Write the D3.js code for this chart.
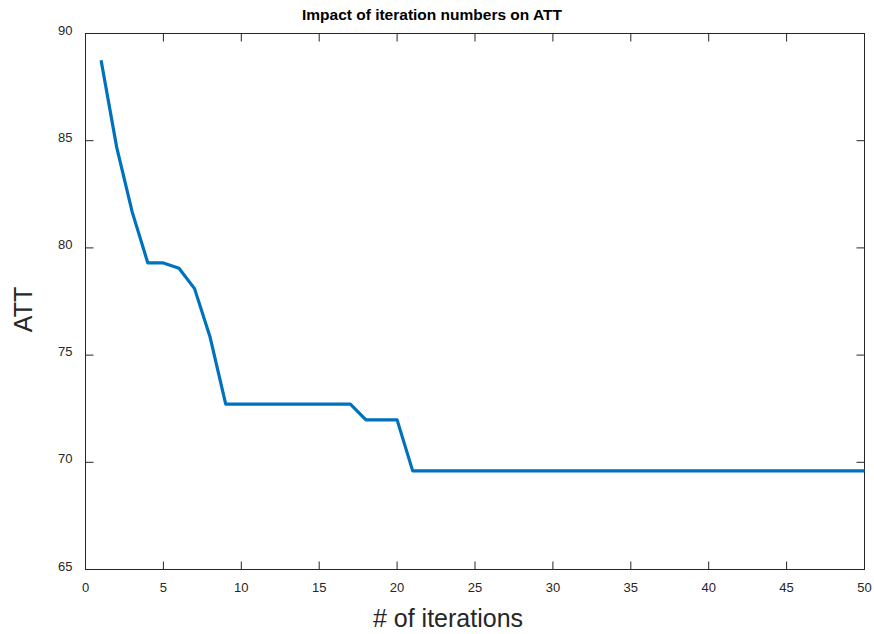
<!DOCTYPE html>
<html>
<head>
<meta charset="utf-8">
<script src="https://cdn.jsdelivr.net/npm/d3@7"></script>
<style>
  body { margin: 0; background: #fff; }
  svg { display: block; font-family: Arial, "Liberation Sans", sans-serif; }
</style>
</head>
<body>
<script>
// data
const iterations = d3.range(1, 51);
const attValues = [
  88.75, 84.7, 81.67, 79.3, 79.3, 79.05, 78.1, 75.83, 72.71, 72.71,
  72.71, 72.71, 72.71, 72.71, 72.71, 72.71, 72.71, 71.98, 71.98, 71.98,
  69.6, 69.6, 69.6, 69.6, 69.6, 69.6, 69.6, 69.6, 69.6, 69.6,
  69.6, 69.6, 69.6, 69.6, 69.6, 69.6, 69.6, 69.6, 69.6, 69.6,
  69.6, 69.6, 69.6, 69.6, 69.6, 69.6, 69.6, 69.6, 69.6, 69.6
];
const xTicks = [0, 5, 10, 15, 20, 25, 30, 35, 40, 45, 50];
const yTicks = [65, 70, 75, 80, 85, 90];

const width = 874, height = 634;
const margin = {left: 85.5, right: 874 - 864.5, top: 33.5, bottom: 634 - 569.5};

const svg = d3.select("body").append("svg")
  .attr("width", width)
  .attr("height", height);

const x = d3.scaleLinear().domain([0, 50]).range([margin.left, width - margin.right]);
const y = d3.scaleLinear().domain([65, 90]).range([height - margin.bottom, margin.top]);

const axisColor = "#262626";
const tickLen = 8;

// box
svg.append("rect")
  .attr("x", x(0)).attr("y", y(90))
  .attr("width", x(50) - x(0)).attr("height", y(65) - y(90))
  .attr("fill", "none").attr("stroke", axisColor).attr("stroke-width", 1);

// x ticks (bottom and top, inward)
const xg = svg.append("g");
xg.selectAll("line.b").data(xTicks).join("line")
  .attr("x1", d => x(d)).attr("x2", d => x(d))
  .attr("y1", y(65)).attr("y2", y(65) - tickLen)
  .attr("stroke", axisColor);
xg.selectAll("line.t").data(xTicks).join("line")
  .attr("x1", d => x(d)).attr("x2", d => x(d))
  .attr("y1", y(90)).attr("y2", y(90) + tickLen)
  .attr("stroke", axisColor);
xg.selectAll("text").data(xTicks).join("text")
  .attr("x", d => x(d)).attr("y", y(65) + 22)
  .attr("text-anchor", "middle")
  .attr("font-size", 13)
  .attr("fill", axisColor)
  .text(d => d);

// y ticks (left and right, inward)
const yg = svg.append("g");
yg.selectAll("line.l").data(yTicks).join("line")
  .attr("x1", x(0)).attr("x2", x(0) + tickLen)
  .attr("y1", d => y(d)).attr("y2", d => y(d))
  .attr("stroke", axisColor);
yg.selectAll("line.r").data(yTicks).join("line")
  .attr("x1", x(50)).attr("x2", x(50) - tickLen)
  .attr("y1", d => y(d)).attr("y2", d => y(d))
  .attr("stroke", axisColor);
yg.selectAll("text").data(yTicks).join("text")
  .attr("x", x(0) - 13).attr("y", d => y(d) + 1)
  .attr("text-anchor", "end")
  .attr("font-size", 13)
  .attr("fill", axisColor)
  .text(d => d);

// line
const line = d3.line()
  .x((d, i) => x(iterations[i]))
  .y(d => y(d));

svg.append("path")
  .datum(attValues)
  .attr("d", line)
  .attr("fill", "none")
  .attr("stroke", "#0072BD")
  .attr("stroke-width", 3.2)
  .attr("stroke-linejoin", "round");

// title and axis labels
svg.append("text")
  .attr("x", 432).attr("y", 20)
  .attr("text-anchor", "middle")
  .attr("font-size", 15.5).attr("font-weight", "bold")
  .attr("fill", "#000")
  .text("Impact of iteration numbers on ATT");

svg.append("text")
  .attr("x", 448).attr("y", 627)
  .attr("text-anchor", "middle")
  .attr("font-size", 25)
  .attr("fill", axisColor)
  .text("# of iterations");

svg.append("text")
  .attr("transform", "translate(31.5, 309.5) rotate(-90)")
  .attr("text-anchor", "middle")
  .attr("font-size", 25)
  .attr("fill", axisColor)
  .text("ATT");
</script>
</body>
</html>
